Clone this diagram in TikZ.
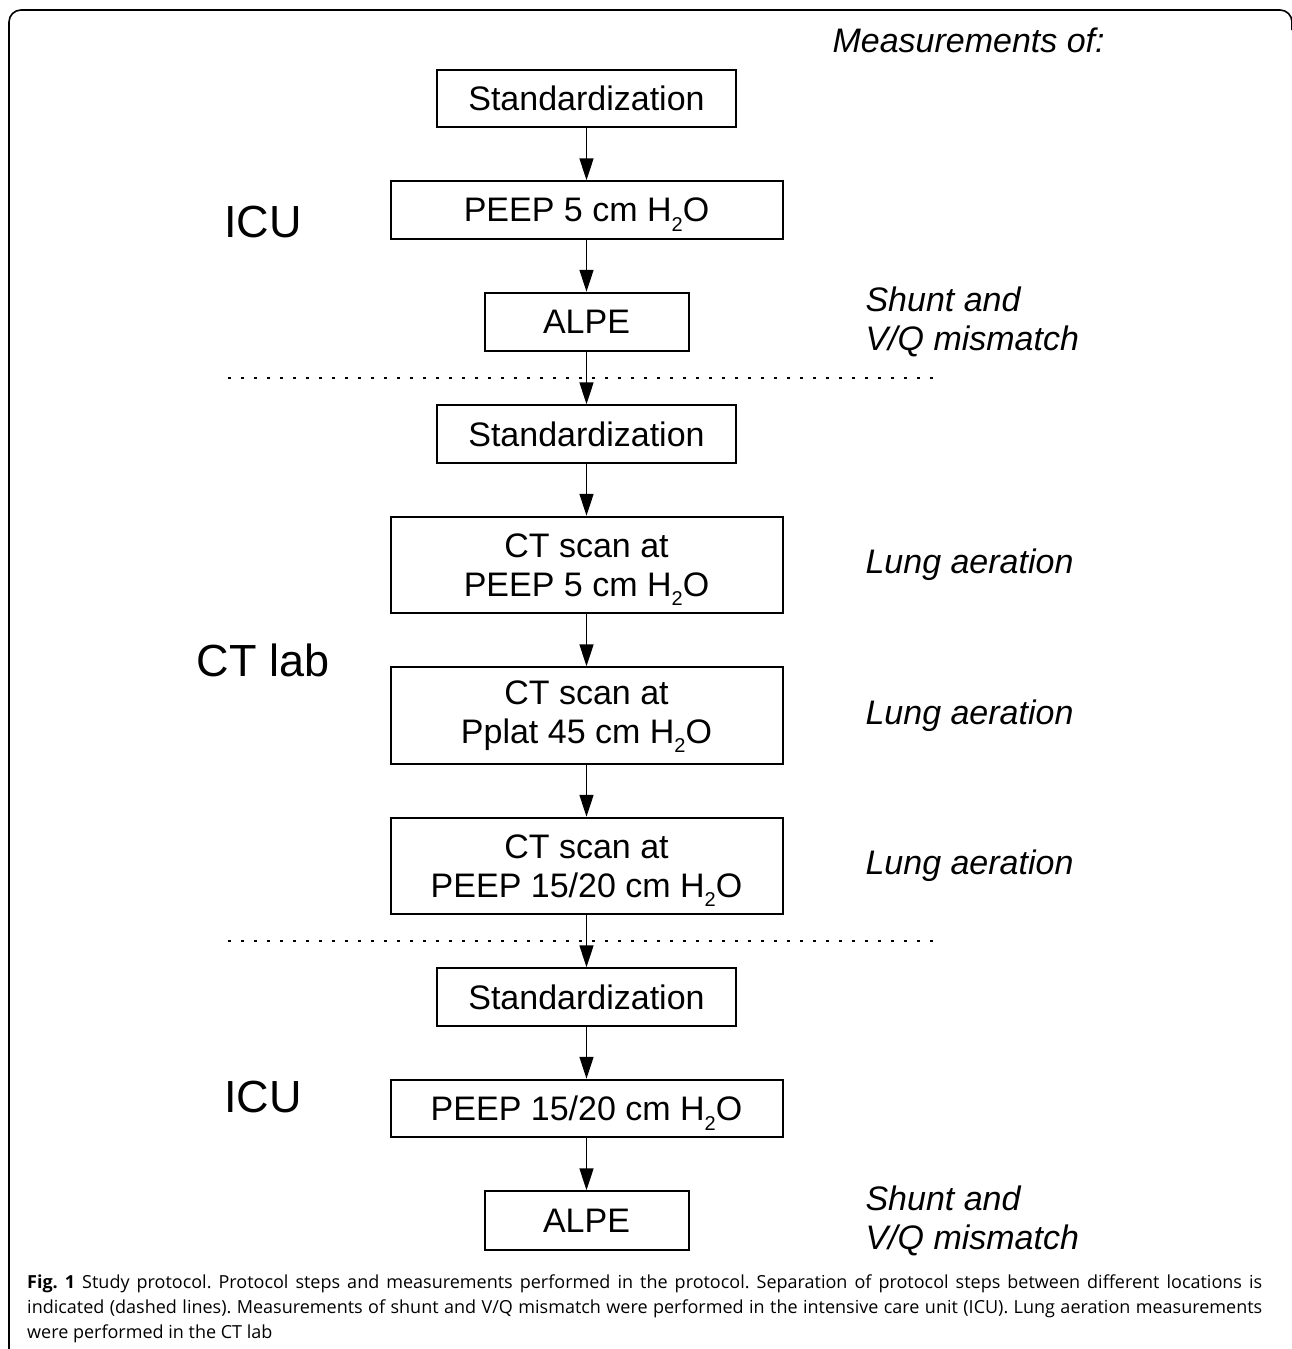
\documentclass[tikz,border=0pt]{standalone}
\usepackage{fontspec}
\setmainfont{Liberation Sans}
\newfontfamily\capfont{Open Sans}
\usetikzlibrary{arrows.meta,positioning}
\newcommand{\water}{H\raisebox{-0.28em}[0pt][0pt]{\fontsize{20}{20}\selectfont 2}O}

\begin{document}
\begin{tikzpicture}[x=1pt,y=-1pt]
    \tikzset{wideblock/.style= {draw, rectangle
    , line width=2pt
    , minimum width=392pt
    , minimum height=57.5pt
    , align=center
    , font=\fontsize{34}{39}\selectfont
      }
    , stdblock/.style={wideblock, minimum width=299pt}
    , smallblock/.style={wideblock, minimum width=204pt, minimum height=58.5pt}
    , tallblock/.style={wideblock, minimum height=96.5pt}
    , location/.style={font=\fontsize{45}{50}\selectfont}
    , measure/.style={anchor=west, align=left, font=\fontsize{34}{39}\selectfont\itshape}
    , divider/.style={line width=2pt, dash pattern=on 3pt off 10pt}
    , flow/.style={line width=1.6pt, -{Triangle[length=22pt,width=14pt]}}
    , node distance=52pt
    }
\useasboundingbox (0,0) rectangle (1292,1349);

% frame
\draw[line width=1.6pt, rounded corners=12pt] (9,1349) -- (9,10) -- (1292,10) -- (1292,30);

\node [stdblock] (std1) at (586.5,98.5) {Standardization};
\node [wideblock, below=of std1] (peep1) {PEEP 5 cm \water};
\node [smallblock, below=of peep1] (alpe1) {ALPE};
\node [stdblock, below=of alpe1] (std2) {Standardization};
\node [tallblock, below=of std2] (ct1) {CT scan at\\PEEP 5 cm \water};
\node [tallblock, below=of ct1] (ct2) {CT scan at\\Pplat 45 cm \water};
\node [tallblock, below=of ct2] (ct3) {CT scan at\\PEEP 15/20 cm \water};
\node [stdblock, below=of ct3] (std3) {Standardization};
\node [wideblock, below=of std3] (peep2) {PEEP 15/20 cm \water};
\node [smallblock, below=of peep2] (alpe2) {ALPE};

% location changes
\coordinate (lft) at (228,0);
\coordinate (rgt) at (935,0);
\path (alpe1.south) -- (std2.north) coordinate[midway] (cut1);
\path (ct3.south) -- (std3.north) coordinate[midway] (cut2);
\draw[divider] (lft |- cut1) -- (rgt |- cut1);
\draw[divider] (lft |- cut2) -- (rgt |- cut2);

\foreach \a/\b in {std1/peep1, peep1/alpe1, alpe1/std2, std2/ct1, ct1/ct2,
                   ct2/ct3, ct3/std3, std3/peep2, peep2/alpe2}
  \path[draw, flow] (\a) -- (\b);

\node [location] (icu1) at (263,222) {ICU};
\node [location] (ctlab) at (263,660) {CT lab};
\node [location] (icu2) at (263,1097) {ICU};

\coordinate (notex) at (862,0);
\node [measure] (meas) at (829,40) {Measurements of:};
\node [measure] (shunt1) at (notex |- alpe1) {Shunt and\\V/Q mismatch};
\node [measure] (lung1) at (notex |- ct1) {Lung aeration};
\node [measure] (lung2) at (notex |- ct2) {Lung aeration};
\node [measure] (lung3) at (notex |- ct3) {Lung aeration};
\node [measure] (shunt2) at (notex |- alpe2) {Shunt and\\V/Q mismatch};

\node [anchor=north west, align=justify, inner sep=0pt, text width=1235pt
      , font=\capfont\frenchspacing\fontsize{18}{25}\selectfont] (caption) at (27,1275)
  {\textbf{Fig. 1} Study protocol. Protocol steps and measurements performed in the protocol. Separation of protocol steps between different locations is\linebreak
   indicated (dashed lines). Measurements of shunt and V/Q mismatch were performed in the intensive care unit (ICU). Lung aeration measurements\linebreak
   were performed in the CT lab\par};
\end{tikzpicture}
\end{document}
